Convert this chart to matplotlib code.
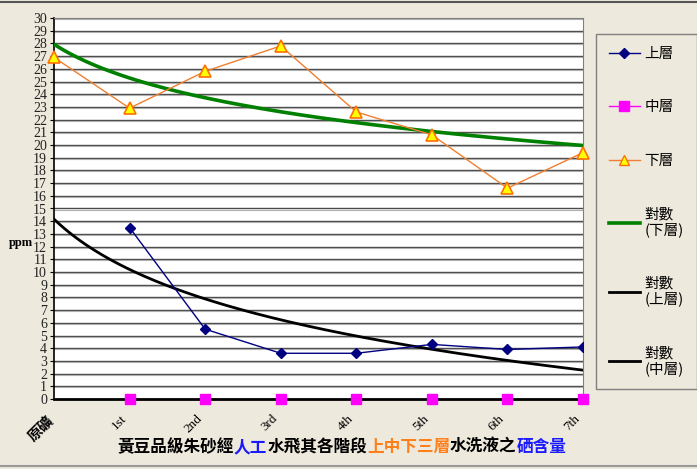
import numpy as np
import matplotlib
matplotlib.use("Agg")
import matplotlib.pyplot as plt
import matplotlib.transforms as mtransforms
from matplotlib.lines import Line2D
from matplotlib.offsetbox import TextArea, HPacker, AnchoredOffsetbox

# ---------------------------------------------------------------------------
# data
# ---------------------------------------------------------------------------
categories = ["原礦", "1st", "2nd", "3rd", "4th", "5th", "6th", "7th"]
upper = [np.nan, 13.5, 5.5, 3.6, 3.6, 4.3, 3.9, 4.1]      # 上層
middle = [np.nan, 0, 0, 0, 0, 0, 0, 0]                   # 中層
lower = [26.9, 22.9, 25.8, 27.8, 22.6, 20.8, 16.6, 19.4]  # 下層

series_names = ["上層", "中層", "下層"]
trend_names = ["對數\n(下層)", "對數\n(上層)", "對數\n(中層)"]
title_parts = [("黃豆品級朱砂經", "black"), ("人工", "#1a1aff"),
               ("水飛其各階段", "black"), ("上中下三層", "#ff7f1a"),
               ("水洗液之", "black"), ("硒含量", "#1a1aff")]

CJK = ["Noto Sans CJK TC", "DejaVu Sans"]
SERIF = ["Liberation Serif", "DejaVu Serif"]
BG = "#eee9dd"


def log_trend(values, t):
    """Excel-style logarithmic trendline: y = a*ln(x) + b, x = 1..n."""
    x = np.arange(1, len(values) + 1, dtype=float)
    y = np.asarray(values, dtype=float)
    ok = ~np.isnan(y)
    a, b = np.polyfit(np.log(x[ok]), y[ok], 1)
    return a * np.log(t + 1) + b


fig = plt.figure(figsize=(6.97, 4.69), dpi=100, facecolor=BG)
ax = fig.add_axes([54 / 697, 1 - 399 / 469, 529 / 697, 381 / 469])
ax.set_facecolor("white")

xpos = np.arange(len(categories))
t = np.linspace(0, len(categories) - 1, 200)

# grid
for v in range(1, 31):
    ax.axhline(v, color="#4a4a4a", lw=1.0, zorder=1)
    ax.axhline(v - 0.08, color="#b0b0b0", lw=0.8, zorder=1)

# series lines (middle line sits under its trendline)
ax.plot(xpos, middle, color="#ff00ff", lw=1.0, zorder=2, clip_on=False)

# trendlines
ax.plot(t, log_trend(lower, t), color="#008000", lw=2.6, zorder=3)
ax.plot(t, log_trend(upper, t), color="black", lw=2.0, zorder=3)
ax.plot(t, log_trend(middle, t), color="black", lw=2.0, zorder=3,
        clip_on=False)

# data series
ax.plot(xpos, upper, color="#000080", lw=1.0, marker="D", ms=5,
        mfc="#000080", mec="#000080", zorder=4)
ax.plot(xpos, middle, ls="none", marker="s", ms=7,
        mfc="#ff00ff", mec="#ff00ff", zorder=5, clip_on=False)
ax.plot(xpos, lower, color="#f07f30", lw=1.0, marker="^", ms=8,
        mfc="#ffff00", mec="#ff7000", mew=1.2, zorder=4, clip_on=False)

ax.set_xlim(0, len(categories) - 1)
ax.set_ylim(0, 30)
ax.set_yticks(range(0, 31))
ax.set_yticklabels([str(v) for v in range(0, 31)], family=SERIF,
                   fontsize=10, color="#222222")
ax.tick_params(axis="y", length=3, pad=2, color="black")
ax.set_xticks(xpos)
ax.set_xticklabels(categories)
ax.tick_params(axis="x", length=0, pad=9)
shift = mtransforms.ScaledTranslation(-9 / 100, -1 / 100, fig.dpi_scale_trans)
for i, lab in enumerate(ax.get_xticklabels()):
    lab.set_rotation(45)
    lab.set_ha("right")
    lab.set_rotation_mode("anchor")
    lab.set_transform(lab.get_transform() + shift)
    if i == 0:
        lab.set_family(CJK)
        lab.set_fontweight("bold")
        lab.set_fontsize(10.5)
    else:
        lab.set_family(SERIF)
        lab.set_fontsize(9.5)

ax.spines["left"].set_color("black")
ax.spines["left"].set_linewidth(1.2)
ax.spines["bottom"].set_visible(False)
ax.spines["top"].set_color("#808080")
ax.spines["right"].set_color("#808080")

ax.text(-0.062, 0.41, "ppm", transform=ax.transAxes, family=SERIF,
        fontsize=9, fontweight="bold", ha="center", va="center")

# multi-coloured title under the axis
boxes = [TextArea(s, textprops=dict(color=c, fontsize=12, fontweight="bold",
                                    family=CJK)) for s, c in title_parts]
packer = HPacker(children=boxes, align="baseline", pad=0, sep=0)
anchored = AnchoredOffsetbox(loc="center", child=packer, pad=0, borderpad=0,
                             frameon=False,
                             bbox_to_anchor=(342 / 697, 1 - 447 / 469),
                             bbox_transform=fig.transFigure)
fig.add_artist(anchored)

# legend
handles = [
    Line2D([], [], color="#000080", lw=1.0, marker="D", ms=5),
    Line2D([], [], color="#ff00ff", lw=1.0, marker="s", ms=7),
    Line2D([], [], color="#f07f30", lw=1.0, marker="^", ms=7,
           mfc="#ffff00", mec="#ff7000"),
    Line2D([], [], color="#008000", lw=2.6),
    Line2D([], [], color="black", lw=2.0),
    Line2D([], [], color="black", lw=2.0),
]
leg = fig.legend(handles, series_names + trend_names, loc="upper left",
                 bbox_to_anchor=(596 / 697, 1 - 34 / 469),
                 prop={"family": CJK, "size": 10.5}, frameon=True,
                 fancybox=False, edgecolor="#808080", facecolor=BG,
                 framealpha=1, labelspacing=2.7, handlelength=2.1,
                 handletextpad=0.3, borderpad=0.9, borderaxespad=0)
for txt in leg.get_texts():
    txt.set_linespacing(1.1)
leg.get_frame().set_linewidth(1.0)

# outer frame lines
fig.add_artist(Line2D([0, 1], [1 - 2 / 469, 1 - 2 / 469], color="#555555",
                      lw=1.5, transform=fig.transFigure))
fig.add_artist(Line2D([0, 1], [3 / 469, 3 / 469], color="#999999",
                      lw=1.5, transform=fig.transFigure))

fig.savefig("out.png", dpi=100, facecolor=BG)
